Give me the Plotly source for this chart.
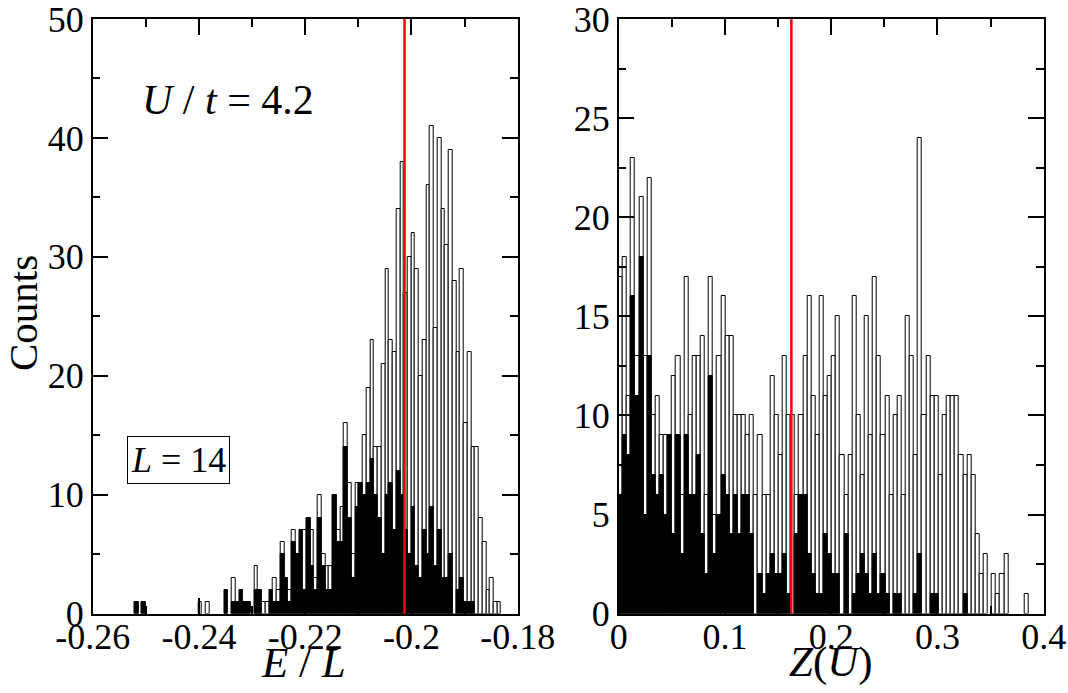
import plotly.graph_objects as go

# ---------------- data ----------------
# Left panel: histogram of E/L (100 bins)
left_bin_start = -0.2521
left_bin_width = 0.000704
left_total = [1, 0, 1, 0, 0, 0, 0, 0, 0, 0,
              0, 0, 0, 0, 0, 0, 0, 1, 0, 1,
              0, 0, 0, 0, 2, 0, 3, 1, 2, 1,
              1, 0, 4, 2, 1, 1, 2, 3, 2, 6,
              3, 2, 7, 5, 7, 7, 8, 7, 3, 10,
              5, 4, 4, 10, 7, 9, 16, 11, 5, 11,
              11, 15, 19, 23, 14, 14, 21, 29, 23, 22,
              34, 38, 27, 30, 32, 29, 20, 23, 36, 41,
              24, 40, 34, 31, 39, 28, 22, 29, 16, 22,
              14, 14, 8, 6, 2, 3, 1, 1, 0, 0]
left_black = [1, 0, 1, 0, 0, 0, 0, 0, 0, 0,
              0, 0, 0, 0, 0, 0, 0, 0, 0, 0,
              0, 0, 0, 0, 2, 0, 1, 1, 2, 1,
              1, 0, 2, 2, 0, 0, 2, 1, 1, 5,
              3, 1, 6, 5, 7, 2, 8, 4, 2, 8,
              4, 2, 2, 10, 6, 6, 14, 8, 3, 9,
              11, 10, 11, 13, 10, 8, 5, 10, 11, 7,
              12, 10, 7, 5, 9, 4, 3, 7, 5, 9,
              4, 7, 3, 3, 5, 0, 2, 3, 1, 1,
              1, 0, 0, 0, 0, 0, 0, 0, 0, 0]
left_marker_x = -0.2013

# Right panel: histogram of Z(U) (100 bins)
right_bin_start = 0.0
right_bin_width = 0.00386
right_total = [17, 18, 11, 23, 13, 21, 13, 22, 10, 11,
               9, 9, 9, 12, 13, 6, 17, 10, 13, 13,
               14, 6, 17, 5, 13, 16, 14, 14, 10, 10,
               10, 9, 10, 6, 9, 6, 6, 12, 10, 8,
               13, 10, 10, 6, 10, 13, 16, 11, 9, 16,
               11, 12, 13, 15, 8, 6, 8, 16, 10, 7,
               15, 9, 17, 13, 9, 11, 6, 10, 11, 6,
               15, 13, 8, 24, 10, 13, 11, 11, 7, 10,
               11, 11, 11, 8, 7, 8, 7, 4, 2, 3,
               0, 2, 1, 2, 3, 0, 0, 0, 0, 1]
right_black = [6, 9, 8, 16, 11, 18, 5, 13, 7, 6,
               7, 5, 9, 4, 9, 3, 9, 6, 6, 8,
               4, 2, 12, 3, 5, 7, 6, 4, 6, 4,
               6, 6, 4, 0, 2, 1, 2, 3, 2, 2,
               3, 1, 0, 4, 6, 6, 3, 2, 1, 1,
               4, 3, 2, 2, 0, 4, 0, 1, 2, 3,
               2, 1, 3, 1, 2, 1, 0, 1, 1, 0,
               0, 0, 1, 3, 0, 0, 1, 1, 0, 0,
               0, 0, 0, 0, 1, 0, 0, 0, 0, 0,
               0, 0, 0, 0, 0, 0, 0, 0, 0, 0]
right_marker_x = 0.1625

left_xticks = [-0.26, -0.24, -0.22, -0.20, -0.18]
left_xticktext = ["-0.26", "-0.24", "-0.22", "-0.2", "-0.18"]
left_xminor = [-0.25, -0.23, -0.21, -0.19]
right_xticks = [0.0, 0.1, 0.2, 0.3, 0.4]
right_xticktext = ["0", "0.1", "0.2", "0.3", "0.4"]
right_xminor = [0.05, 0.15, 0.25, 0.35]

# ---------------- figure ----------------
FONT = "Liberation Serif"
W, H = 1068, 693


def fx(p):   # pixel x -> paper fraction
    return p / W


def fy(p):   # pixel y (from top) -> paper fraction
    return (H - p) / H


def centers(start, width, n):
    return [start + width * (i + 0.5) for i in range(n)]


lx = centers(left_bin_start, left_bin_width, len(left_total))
rx = centers(right_bin_start, right_bin_width, len(right_total))

fig = go.Figure()


def add_hist(x, total, black, width, xa, ya):
    xt = [xi for xi, v in zip(x, total) if v > 0]
    yt = [v for v in total if v > 0]
    xb = [xi for xi, v in zip(x, black) if v > 0]
    yb = [v for v in black if v > 0]
    fig.add_trace(go.Bar(x=xt, y=yt, width=width, xaxis=xa, yaxis=ya,
                         marker=dict(color="white", line=dict(color="black", width=1)),
                         hoverinfo="skip"))
    fig.add_trace(go.Bar(x=xb, y=yb, width=width, xaxis=xa, yaxis=ya,
                         marker=dict(color="black", line=dict(color="black", width=1)),
                         hoverinfo="skip"))


add_hist(lx, left_total, left_black, left_bin_width, "x", "y")
add_hist(rx, right_total, right_black, right_bin_width, "x2", "y2")

ydom = [fy(613.6), fy(19.0)]
axis_common = dict(showline=True, linecolor="black", linewidth=1.5, mirror="allticks",
                   ticks="inside", ticklen=16, tickwidth=1.5, tickcolor="black",
                   showgrid=False, zeroline=False, automargin=False,
                   ticklabeloverflow="allow",
                   tickfont=dict(family=FONT, size=36, color="black"))
minor_common = dict(ticks="inside", ticklen=8, tickwidth=1.5, tickcolor="black", showgrid=False)

fig.update_layout(
    template="none",
    width=W, height=H, margin=dict(l=0, r=0, t=0, b=0, autoexpand=False),
    paper_bgcolor="white", plot_bgcolor="white",
    barmode="overlay", bargap=0, showlegend=False,
    xaxis=dict(domain=[fx(92.7), fx(517.7)], range=[-0.26, -0.18], anchor="y",
               tickmode="array", tickvals=left_xticks, ticktext=left_xticktext,
               ticklabelstandoff=-10,
               minor=dict(tickmode="array", tickvals=left_xminor, **minor_common),
               **axis_common),
    yaxis=dict(domain=ydom, range=[0, 50], anchor="x", dtick=10, tick0=0,
               minor=dict(dtick=5, **minor_common), **axis_common),
    xaxis2=dict(domain=[fx(618.7), fx(1043.7)], range=[0, 0.4], anchor="y2",
                tickmode="array", tickvals=right_xticks, ticktext=right_xticktext,
                ticklabelstandoff=-10,
                minor=dict(tickmode="array", tickvals=right_xminor, **minor_common),
                **axis_common),
    yaxis2=dict(domain=ydom, range=[0, 30], anchor="x2", dtick=5, tick0=0,
                minor=dict(dtick=2.5, **minor_common), **axis_common),
)

# red marker lines
fig.add_shape(type="line", xref="x", yref="y", x0=left_marker_x, x1=left_marker_x,
              y0=0, y1=50, line=dict(color="red", width=2.5))
fig.add_shape(type="line", xref="x2", yref="y2", x0=right_marker_x, x1=right_marker_x,
              y0=0, y1=30, line=dict(color="red", width=2.5))

fig.add_annotation(text="<i>U</i> / <i>t</i> = 4.2", xref="x", yref="y",
                   x=-0.2345, y=43.2, xanchor="center", yanchor="middle", showarrow=False,
                   font=dict(family=FONT, size=42, color="black"))
fig.add_annotation(text="<i>L</i> = 14", xref="x", yref="y", x=-0.2438, y=12.9,
                   xanchor="center", yanchor="middle",
                   showarrow=False, font=dict(family=FONT, size=36, color="black"),
                   bordercolor="black", borderwidth=1, borderpad=3, bgcolor="white")
fig.add_annotation(text="Counts", xref="paper", yref="paper", x=fx(23), y=fy(313),
                   xanchor="center", yanchor="middle",
                   textangle=-90, showarrow=False, font=dict(family=FONT, size=41, color="black"))
fig.add_annotation(text="<i>E</i> / <i>L</i>", xref="paper", yref="paper",
                   x=fx(303), y=fy(662), xanchor="center", yanchor="middle", showarrow=False,
                   font=dict(family=FONT, size=43, color="black"))
fig.add_annotation(text="<i>Z</i>(<i>U</i>)", xref="paper", yref="paper",
                   x=fx(831), y=fy(662), xanchor="center", yanchor="middle", showarrow=False,
                   font=dict(family=FONT, size=43, color="black"))

# remove the default page margin so the figure sits at the window's top-left corner
fig.write_html("out.html", config={"displayModeBar": False},
               post_script="document.body.style.margin='0';")
